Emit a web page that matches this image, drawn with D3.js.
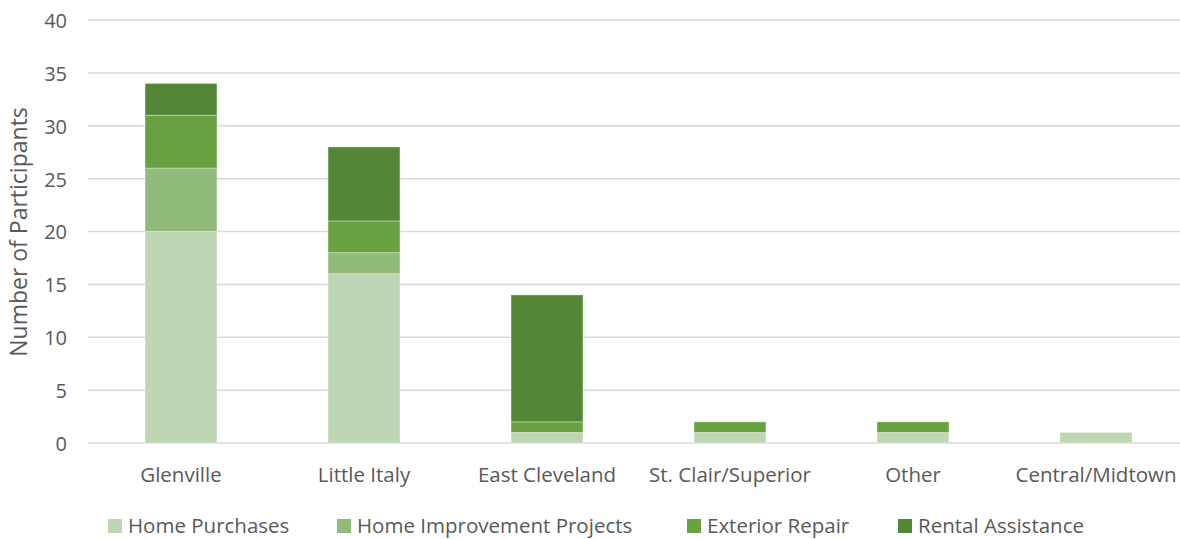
<!DOCTYPE html>
<html>
<head>
<meta charset="utf-8">
<script src="https://cdn.jsdelivr.net/npm/d3@7"></script>
<style>
  body { margin: 0; background: #fff; }
  text { font-family: "Open Sans", sans-serif; fill: #595959; }
</style>
</head>
<body>
<svg id="chart" width="1180" height="539"></svg>
<script>
// chart data
var categories = ["Glenville", "Little Italy", "East Cleveland", "St. Clair/Superior", "Other", "Central/Midtown"];
var seriesNames = ["Home Purchases", "Home Improvement Projects", "Exterior Repair", "Rental Assistance"];
var homePurchases = [20, 16, 1, 1, 1, 1];
var homeImprovement = [6, 2, 0, 0, 0, 0];
var exteriorRepair = [5, 3, 1, 1, 1, 0];
var rentalAssistance = [3, 7, 12, 0, 0, 0];
var yTicks = [0, 5, 10, 15, 20, 25, 30, 35, 40];

var colors = ["#bfd6b4", "#91bb7a", "#68a240", "#548638"];

var svg = d3.select("#chart");

var rows = categories.map(function(c, i) {
    return {
        cat: c,
        "Home Purchases": homePurchases[i],
        "Home Improvement Projects": homeImprovement[i],
        "Exterior Repair": exteriorRepair[i],
        "Rental Assistance": rentalAssistance[i]
    };
});

var stacked = d3.stack().keys(seriesNames)(rows);

var x = d3.scaleBand()
    .domain(categories)
    .range([89.5, 1187.5])
    .paddingInner(0.607)
    .paddingOuter(0.3035);

var y = d3.scaleLinear()
    .domain([0, 40])
    .range([443, 20]);

// gridlines
svg.append("g").selectAll("line")
    .data(yTicks)
    .enter().append("line")
    .attr("x1", 88)
    .attr("x2", 1180)
    .attr("y1", function(d) { return y(d); })
    .attr("y2", function(d) { return y(d); })
    .attr("stroke", "#d9d9d9")
    .attr("stroke-width", 1.5);

// y axis labels
var yAxis = d3.axisLeft(y).tickValues(yTicks).tickSize(0).tickPadding(0);
var yg = svg.append("g")
    .attr("transform", "translate(67,1)")
    .call(yAxis);
yg.select(".domain").remove();
yg.selectAll("text")
    .style("font-size", "20px")
    .attr("fill", "#595959");

// bars
svg.append("g").selectAll("g")
    .data(stacked)
    .enter().append("g")
    .attr("fill", function(d, i) { return colors[i]; })
    .selectAll("rect")
    .data(function(d) { return d.filter(function(p) { return p[1] - p[0] > 0; }); })
    .enter().append("rect")
    .attr("x", function(d) { return x(d.data.cat); })
    .attr("width", x.bandwidth())
    .attr("y", function(d) { return y(d[1]); })
    .attr("height", function(d) { return y(d[0]) - y(d[1]); })
    .attr("stroke", "rgba(255,255,255,0.35)")
    .attr("stroke-width", 1);

// x axis labels
var xAxis = d3.axisBottom(x).tickSize(0).tickPadding(0);
var xg = svg.append("g")
    .attr("transform", "translate(0,467)")
    .call(xAxis);
xg.select(".domain").remove();
xg.selectAll("text")
    .style("font-size", "20.5px")
    .attr("fill", "#595959");

// y axis title
svg.append("text")
    .attr("transform", "translate(27,232) rotate(-90)")
    .attr("text-anchor", "middle")
    .style("font-size", "23px")
    .text("Number of Participants");

// legend
var legendX = [108, 337, 687, 898];
var legend = svg.append("g").selectAll("g")
    .data(seriesNames)
    .enter().append("g")
    .attr("transform", function(d, i) { return "translate(" + legendX[i] + ",519)"; });

legend.append("rect")
    .attr("width", 14)
    .attr("height", 14)
    .attr("fill", function(d, i) { return colors[i]; });

legend.append("text")
    .attr("x", 20)
    .attr("y", 14)
    .style("font-size", "20.5px")
    .text(function(d) { return d; });
</script>
</body>
</html>
